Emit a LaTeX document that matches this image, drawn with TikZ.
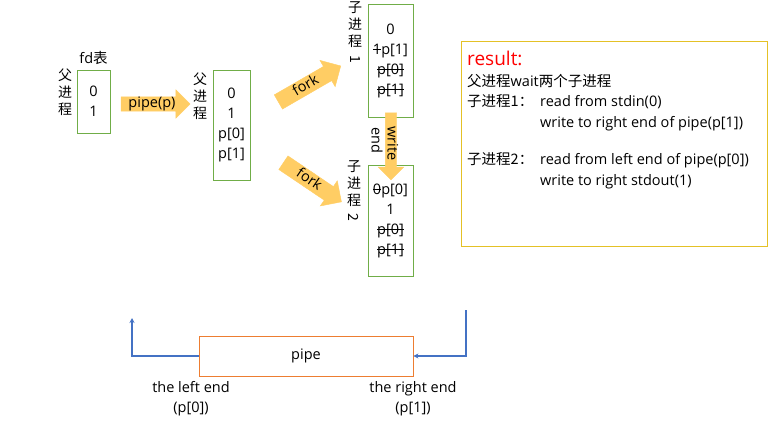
\documentclass[tikz,border=0pt]{standalone}
\usepackage{fontspec}
\setmainfont{Open Sans}
\newfontfamily\cjk{Noto Sans CJK SC}
\usepackage{graphicx}
\usetikzlibrary{arrows.meta, positioning, shapes.arrows}
\definecolor{boxgreen}{RGB}{112,173,71}
\definecolor{arrowfill}{RGB}{255,205,100}
\definecolor{pipeorange}{RGB}{237,125,49}
\definecolor{resultyellow}{RGB}{228,193,38}
\definecolor{lineblue}{RGB}{68,114,196}
\newcommand{\strikeout}[1]{\setbox0\hbox{#1}\rlap{\rule[0.3em]{\wd0}{0.6pt}}\box0}
\tikzset{
    fd style/.style={draw=boxgreen, line width=0.8pt, rectangle, align=center, inner sep=0pt, font=\fontsize{14.5}{20}\selectfont},
    block arrow/.style={single arrow, fill=arrowfill, draw=arrowfill, inner xsep=1pt, inner ysep=0pt, text height=10.5pt, text depth=3.5pt, single arrow head extend=7pt, font=\fontsize{14.5}{16}\selectfont},
    label style/.style={align=center, inner sep=0pt, font=\cjk\fontsize{14}{17}\selectfont},
    link style/.style={draw=lineblue, line width=1.2pt, -{Stealth[length=5pt, width=5pt]}},
}

\begin{document}
\begin{tikzpicture}[x=1pt, y=-1pt]
        \useasboundingbox (0,0) rectangle (776,434);

        % parent before pipe()
        \node (fdold) [fd style, minimum width=33pt, minimum height=63pt] at (93.5,101.5) {0\\1};
        \node (fdtab) [label style, font=\fontsize{14.5}{16}\selectfont, above=5pt of fdold] {fd{\cjk 表}};
        \node (parold) [label style] at (65,92) {父\\进\\程};
        \node (pipearrow) [block arrow, minimum height=69pt] at (152,104) {pipe(p)};

        % parent after pipe()
        \node (fdpar) [fd style, minimum width=37pt, minimum height=110pt] at (231.5,125) {0\\1\\p[0]\\p[1]};
        \node (parnew) [label style] at (200,96) {父\\进\\程};
        \node (forkA) [block arrow, text height=12pt, text depth=4pt, minimum height=72pt, rotate=30] at (306,86) {fork};
        \node (forkB) [block arrow, text height=12pt, text depth=4pt, minimum height=70pt, rotate=-34] at (309,180) {fork};

        % children
        \node (childA) [fd style, minimum width=45pt, minimum height=113pt] at (390.5,60.5) {0\\\strikeout{1}p[1]\\\strikeout{p[0]}\\\strikeout{p[1]}};
        \node (childAlabel) [label style] at (355,33) {子\\进\\程\\\rotatebox[origin=c]{-90}{1}};
        \node (childB) [fd style, minimum width=45pt, minimum height=111pt] at (390.5,220.5) {\strikeout{0}p[0]\\1\\\strikeout{p[0]}\\\strikeout{p[1]}};
        \node (childBlabel) [label style] at (354,192) {子\\进\\程\\\rotatebox[origin=c]{-90}{2}};
        \node (writearrow) [block arrow, text height=9pt, text depth=2pt, minimum height=67pt, rotate=-90] at (391,143.5) {write};
        \node (endlabel) [label style, font=\fontsize{14.5}{16}\selectfont, rotate=-90] at (377,140) {end};

        % result
        \node (resultbox) [draw=resultyellow, line width=0.8pt, minimum width=306pt, minimum height=205pt] at (614,143.5) {};
        \node (resulttext) [anchor=north west, align=left, inner sep=0pt, font=\fontsize{14.5}{20.5}\selectfont] at (467,51) {%
            {\color{red}\fontsize{19}{20}\selectfont result:}\\
            {\cjk 父进程}wait{\cjk 两个子进程}\\
            \makebox[73pt][l]{\cjk 子进程1：}read from stdin(0)\\
            \hspace*{73pt}write to right end of pipe(p[1])\\[17pt]
            \makebox[73pt][l]{\cjk 子进程2：}read from left end of pipe(p[0])\\
            \hspace*{73pt}write to right stdout(1)};

        % pipe
        \node (pipebox) [draw=pipeorange, line width=0.8pt, minimum width=214pt, minimum height=40pt, font=\fontsize{14.5}{16}\selectfont] at (306,356) {pipe};
        \coordinate (leftup) at (132,318);
        \coordinate (rightdown) at (466,310);
        \draw [link style] (pipebox.west) -| (leftup);
        \draw [link style] (rightdown) |- (pipebox.east);
        \node (leftend) [align=center, inner sep=0pt, font=\fontsize{14.5}{20}\selectfont] at (191,399) {the left end\\(p[0])};
        \node (rightend) [align=center, inner sep=0pt, font=\fontsize{14.5}{20}\selectfont] at (413,399) {the right end\\(p[1])};
    \end{tikzpicture}
\end{document}
